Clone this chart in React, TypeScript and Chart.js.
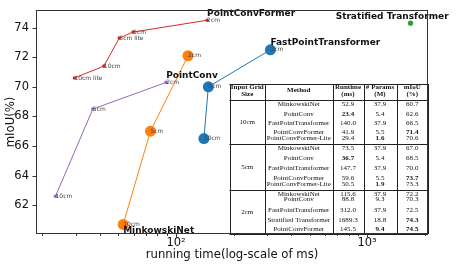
import React, { useEffect, useRef } from 'react';
import { Chart, registerables } from 'chart.js';

Chart.register(...registerables);

// ---------- data ----------
const gridSizes = ['10cm', '5cm', '2cm'];
const minkowskiRuntime = [52.9, 73.5, 115.6];
const minkowskiMiou = [60.7, 67.0, 72.1];
const pointConvRuntime = [23.4, 36.7, 88.8];
const pointConvMiou = [62.6, 68.5, 70.3];
const fptRuntime = [140.0, 147.7, 312.0];
const fptMiou = [66.5, 70.0, 72.5];
const pcfLabels = ['10cm lite', '10cm', '5cm lite', '5cm', '2cm'];
const pcfRuntime = [29.4, 41.9, 50.5, 59.6, 145.5];
const pcfMiou = [70.6, 71.4, 73.3, 73.7, 74.5];
const stratRuntime = [1689.3];
const stratMiou = [74.3];

const yTicks = [62, 64, 66, 68, 70, 72, 74];
const xTicks = [20, 30, 40, 50, 60, 70, 80, 90, 100, 200, 300, 400, 500, 600, 700, 800, 900, 1000, 2000];
const xMajorLabels: Record<number, string> = { 100: '10²', 1000: '10³' };

// method name labels: [text, runtime anchor, mIoU anchor]
const methodLabelText = ['PointConvFormer', 'FastPointTransformer', 'PointConv', 'MinkowskiNet', 'Stratified Transformer'];
const methodLabelX = [145.5, 312.0, 88.8, 52.9, 685];
const methodLabelY = [74.5, 72.5, 70.3, 60.7, 74.3];

// table contents
const tableHeader = [['Input Grid', 'Size'], ['Method'], ['Runtime', '(ms)'], ['# Params', '(M)'], ['mIoU', '(%)']];
const tableGroups = ['10cm', '5cm', '2cm'];
const tableMethods = [
  ['MinkowskiNet', 'PointConv', 'FastPointTransformer', 'PointConvFormer', 'PointConvFormer-Lite'],
  ['MinkowskiNet', 'PointConv', 'FastPointTransformer', 'PointConvFormer', 'PointConvFormer-Lite'],
  ['MinkowskiNet', 'PointConv', 'FastPointTransformer', 'Stratified Transformer', 'PointConvFormer'],
];
const tableRuntime = [
  ['52.9', '23.4', '140.0', '41.9', '29.4'],
  ['73.5', '36.7', '147.7', '59.6', '50.5'],
  ['115.6', '88.8', '312.0', '1689.3', '145.5'],
];
const tableParams = [
  ['37.9', '5.4', '37.9', '5.5', '1.6'],
  ['37.9', '5.4', '37.9', '5.5', '1.9'],
  ['37.9', '9.3', '37.9', '18.8', '9.4'],
];
const tableMiou = [
  ['60.7', '62.6', '66.5', '71.4', '70.6'],
  ['67.0', '68.5', '70.0', '73.7', '73.3'],
  ['72.2', '70.3', '72.5', '74.3', '74.5'],
];
// bold cells: [group, row, column(2=runtime,3=params,4=miou)]
const tableBold = [
  [0, 1, 2], [0, 4, 3], [0, 3, 4],
  [1, 1, 2], [1, 4, 3], [1, 3, 4],
  [2, 4, 3], [2, 3, 4], [2, 4, 4],
];

// ---------- layout (pixels) ----------
const TABLE_COLS = [229.5, 265, 332.5, 363.5, 396.5, 428];
const TABLE_TOP = 84;
const TABLE_HEADER_BOTTOM = 100;
const TABLE_GROUP_LINES = [144, 190, 234];
const TABLE_HEADER_ROWS = [87.5, 94];
const TABLE_ROW_Y = [
  [104.5, 114, 123.5, 132.5, 138],
  [148.5, 158.5, 168.5, 178, 184],
  [194, 199.5, 210, 220, 229.5],
];

const FONT = "'DejaVu Sans', sans-serif";
const SERIF = "'Liberation Serif', 'Times New Roman', serif";

const BLUE = '#1f77b4';
const ORANGE = '#ff7f0e';
const GREEN = '#2ca02c';
const RED = '#d62728';
const PURPLE = '#9467bd';

function pts(xs: number[], ys: number[]) {
  return xs.map((x, i) => ({ x, y: ys[i] }));
}

const overlayPlugin = {
  id: 'overlay',
  afterDatasetsDraw(chart: any) {
    const ctx = chart.ctx;
    const xs = chart.scales.x;
    const ys = chart.scales.y;
    ctx.save();
    // small point labels
    ctx.font = `6px ${FONT}`;
    ctx.fillStyle = '#444';
    ctx.textAlign = 'left';
    ctx.textBaseline = 'middle';
    const small = (rt: number[], mi: number[], labels: string[]) => {
      rt.forEach((r, i) => {
        ctx.fillText(labels[i], xs.getPixelForValue(r), ys.getPixelForValue(mi[i]));
      });
    };
    small(minkowskiRuntime, minkowskiMiou, gridSizes);
    small(pointConvRuntime, pointConvMiou, gridSizes);
    small(fptRuntime, fptMiou, gridSizes);
    small(pcfRuntime, pcfMiou, pcfLabels);
    // method labels
    ctx.font = `bold 9px ${FONT}`;
    ctx.fillStyle = '#111';
    methodLabelText.forEach((t, i) => {
      const px = xs.getPixelForValue(methodLabelX[i]);
      const py = ys.getPixelForValue(methodLabelY[i]);
      const dy = methodLabelY[i] < 62 ? 6.5 : -7;
      ctx.fillText(t, px, py + dy);
    });
    ctx.restore();
  },
  afterDraw(chart: any) {
    const ctx = chart.ctx;
    const xs = chart.scales.x;
    const ys = chart.scales.y;
    const area = chart.chartArea;
    ctx.save();

    // ---- table ----
    const L = TABLE_COLS[0];
    const R = TABLE_COLS[TABLE_COLS.length - 1];
    ctx.fillStyle = '#fff';
    ctx.fillRect(L, TABLE_TOP, R - L, TABLE_GROUP_LINES[2] - TABLE_TOP);
    ctx.strokeStyle = '#222';
    ctx.lineWidth = 1;
    ctx.beginPath();
    TABLE_COLS.forEach((cx) => {
      ctx.moveTo(Math.round(cx) + 0.5, TABLE_TOP);
      ctx.lineTo(Math.round(cx) + 0.5, TABLE_GROUP_LINES[2]);
    });
    [TABLE_TOP, TABLE_HEADER_BOTTOM, ...TABLE_GROUP_LINES].forEach((ly) => {
      ctx.moveTo(L, Math.round(ly) + 0.5);
      ctx.lineTo(R, Math.round(ly) + 0.5);
    });
    ctx.stroke();

    const colCenter = (c: number) => (TABLE_COLS[c] + TABLE_COLS[c + 1]) / 2;
    const drawCell = (text: string, cx: number, cy: number, bold: boolean) => {
      ctx.save();
      ctx.translate(cx, cy);
      ctx.scale(1.08, 1);
      ctx.font = `${bold ? 'bold ' : ''}6.5px ${SERIF}`;
      ctx.fillStyle = '#111';
      ctx.textAlign = 'center';
      ctx.textBaseline = 'middle';
      ctx.fillText(text, 0, 0);
      ctx.restore();
    };
    tableHeader.forEach((lines, c) => {
      if (lines.length === 1) {
        drawCell(lines[0], colCenter(c), (TABLE_HEADER_ROWS[0] + TABLE_HEADER_ROWS[1]) / 2, true);
      } else {
        lines.forEach((t, k) => drawCell(t, colCenter(c), TABLE_HEADER_ROWS[k], true));
      }
    });
    const isBold = (g: number, r: number, c: number) =>
      tableBold.some((b) => b[0] === g && b[1] === r && b[2] === c);
    tableGroups.forEach((grp, g) => {
      const top = g === 0 ? TABLE_HEADER_BOTTOM : TABLE_GROUP_LINES[g - 1];
      const bot = TABLE_GROUP_LINES[g];
      drawCell(grp, colCenter(0), (top + bot) / 2, false);
      TABLE_ROW_Y[g].forEach((ry, r) => {
        drawCell(tableMethods[g][r], colCenter(1), ry, false);
        drawCell(tableRuntime[g][r], colCenter(2), ry, isBold(g, r, 2));
        drawCell(tableParams[g][r], colCenter(3), ry, isBold(g, r, 3));
        drawCell(tableMiou[g][r], colCenter(4), ry, isBold(g, r, 4));
      });
    });

    // ---- frame ----
    ctx.strokeStyle = '#333';
    ctx.lineWidth = 1;
    ctx.strokeRect(Math.round(area.left) + 0.5, Math.round(area.top) + 0.5,
      Math.round(area.right - area.left) - 1, Math.round(area.bottom - area.top) - 1);

    // ---- tick marks ----
    ctx.strokeStyle = '#333';
    ctx.beginPath();
    xTicks.forEach((v) => {
      const px = Math.round(xs.getPixelForValue(v)) + 0.5;
      const len = xMajorLabels[v] ? 3.5 : 2;
      ctx.moveTo(px, area.bottom);
      ctx.lineTo(px, area.bottom + len);
    });
    yTicks.forEach((v) => {
      const py = Math.round(ys.getPixelForValue(v)) + 0.5;
      ctx.moveTo(area.left, py);
      ctx.lineTo(area.left - 3.5, py);
    });
    ctx.stroke();

    // ---- axis titles ----
    ctx.fillStyle = '#111';
    ctx.font = `11.7px ${FONT}`;
    ctx.textAlign = 'center';
    ctx.textBaseline = 'middle';
    ctx.fillText('running time(log-scale of ms)', (area.left + area.right) / 2, 254.5);
    ctx.save();
    ctx.translate(11, (area.top + area.bottom) / 2);
    ctx.rotate(-Math.PI / 2);
    ctx.fillText('mIoU(%)', 0, 0);
    ctx.restore();

    ctx.restore();
  },
};

export default function App() {
  const canvasRef = useRef<HTMLCanvasElement | null>(null);

  useEffect(() => {
    const canvas = canvasRef.current;
    if (!canvas) return;
    const big = 5.5;
    const small = 1.8;
    const chart = new Chart(canvas, {
      type: 'scatter',
      data: {
        datasets: [
          {
            label: 'FastPointTransformer',
            data: pts(fptRuntime, fptMiou),
            showLine: true,
            borderColor: BLUE,
            backgroundColor: BLUE,
            borderWidth: 1,
            pointRadius: big,
            pointBorderWidth: 0,
            pointBackgroundColor: BLUE,
          },
          {
            label: 'MinkowskiNet',
            data: pts(minkowskiRuntime, minkowskiMiou),
            showLine: true,
            borderColor: ORANGE,
            backgroundColor: ORANGE,
            borderWidth: 1,
            pointRadius: big,
            pointBorderWidth: 0,
            pointBackgroundColor: ORANGE,
          },
          {
            label: 'Stratified Transformer',
            data: pts(stratRuntime, stratMiou),
            showLine: false,
            borderColor: GREEN,
            backgroundColor: GREEN,
            pointRadius: 2.6,
            pointBorderWidth: 0,
            pointBackgroundColor: GREEN,
          },
          {
            label: 'PointConvFormer',
            data: pts(pcfRuntime, pcfMiou),
            showLine: true,
            borderColor: RED,
            backgroundColor: RED,
            borderWidth: 1,
            pointRadius: small,
            pointBorderWidth: 0,
            pointBackgroundColor: RED,
          },
          {
            label: 'PointConv',
            data: pts(pointConvRuntime, pointConvMiou),
            showLine: true,
            borderColor: PURPLE,
            backgroundColor: PURPLE,
            borderWidth: 1,
            pointRadius: small,
            pointBorderWidth: 0,
            pointBackgroundColor: PURPLE,
          },
        ],
      },
      options: {
        animation: false,
        responsive: false,
        events: [],
        layout: { padding: { left: 0, right: 48, top: 5, bottom: 0 } },
        plugins: {
          legend: { display: false },
          tooltip: { enabled: false },
        },
        scales: {
          x: {
            type: 'logarithmic',
            min: 18.5,
            max: 2085,
            border: { display: false },
            grid: { drawOnChartArea: false, drawTicks: true, tickLength: 2, tickColor: 'rgba(0,0,0,0)' },
            afterBuildTicks: (scale: any) => {
              scale.ticks = xTicks.map((v) => ({ value: v }));
            },
            afterFit: (scale: any) => {
              scale.height = 34;
            },
            ticks: {
              autoSkip: false,
              maxRotation: 0,
              padding: 0,
              color: '#111',
              font: { family: FONT, size: 11.5 },
              callback: (v: any) => xMajorLabels[Number(v)] || '',
            },
          },
          y: {
            type: 'linear',
            min: 60.05,
            max: 75.2,
            border: { display: false },
            grid: { drawOnChartArea: false, drawTicks: true, tickLength: 4, tickColor: 'rgba(0,0,0,0)' },
            afterBuildTicks: (scale: any) => {
              scale.ticks = yTicks.map((v) => ({ value: v }));
            },
            afterFit: (scale: any) => {
              scale.width = 36;
            },
            ticks: {
              padding: 3,
              color: '#111',
              font: { family: FONT, size: 11.5 },
              callback: (v: any) => String(v),
            },
          },
        },
      },
      plugins: [overlayPlugin],
    } as any);
    return () => chart.destroy();
  }, []);

  return (
    <div style={{ position: 'fixed', left: 0, top: 0, width: 476, height: 268, background: '#fff' }}>
      <canvas ref={canvasRef} width={476} height={268} style={{ display: 'block', width: 476, height: 268 }} />
    </div>
  );
}
